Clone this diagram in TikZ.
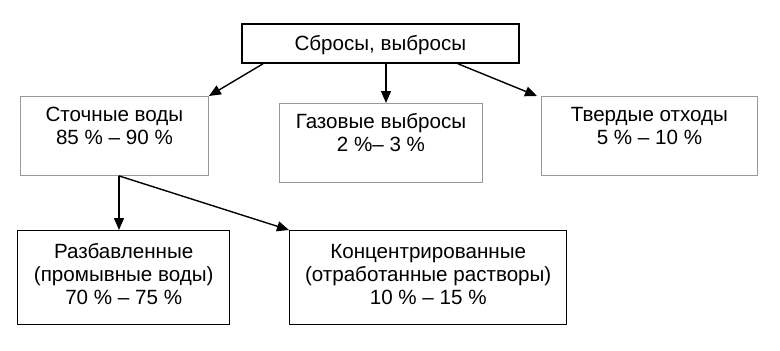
\documentclass[tikz,border=0pt]{standalone}
\usepackage{fontspec}
\setmainfont{Liberation Sans}
\usetikzlibrary{arrows.meta}
\begin{document}
\begin{tikzpicture}[x=1pt,y=-1pt,
  box/.style={font=\fontsize{20.6}{23}\selectfont, align=center, inner sep=0pt, anchor=north west},
  graybox/.style={box, draw=gray!80, line width=0.9pt, minimum height=79pt, text height=37.5pt, text depth=19.5pt},
  blackbox/.style={box, draw=black, line width=1.4pt, minimum height=94pt, text height=61pt, text depth=8.4pt},
  topbox/.style={box, draw=black, line width=1.8pt, minimum height=39pt, text height=14.6pt, text depth=0pt},
  arr/.style={line width=1.4pt, -{Triangle[length=12pt,width=10pt]}}
]
\useasboundingbox (0,0) rectangle (780,351);
\node[topbox, minimum width=277pt] (top) at (241,23) {Сбросы, выбросы};
\node[graybox, minimum width=188pt] (stoch) at (20,96) {Сточные воды\\85 \% – 90 \%};
\node[graybox, minimum width=203pt] (gas) at (279,103) {Газовые выбросы\\2 \%– 3 \%};
\node[graybox, minimum width=216pt] (tverd) at (541,96) {Твердые отходы\\5 \% – 10 \%};
\node[blackbox, minimum width=212pt] (razb) at (17,230) {Разбавленные\\(промывные воды)\\70 \% – 75 \%};
\node[blackbox, minimum width=277pt] (konc) at (289,230) {Концентрированные\\(отработанные растворы)\\10 \% – 15 \%};
\coordinate (t1) at ([xshift=22pt]top.south west);
\coordinate (t2) at ([xshift=145pt]top.south west);
\coordinate (t3) at ([xshift=217pt]top.south west);
\coordinate (s1) at ([xshift=99pt]stoch.south west);
\draw[arr] (t1) -- (stoch.north east);
\draw[arr] (t2) -- (t2 |- gas.north);
\draw[arr] (t3) -- ([xshift=-4pt]tverd.north west);
\draw[arr] (s1) -- (s1 |- razb.north);
\draw[arr] (s1) -- (konc.north west);
\end{tikzpicture}
\end{document}
